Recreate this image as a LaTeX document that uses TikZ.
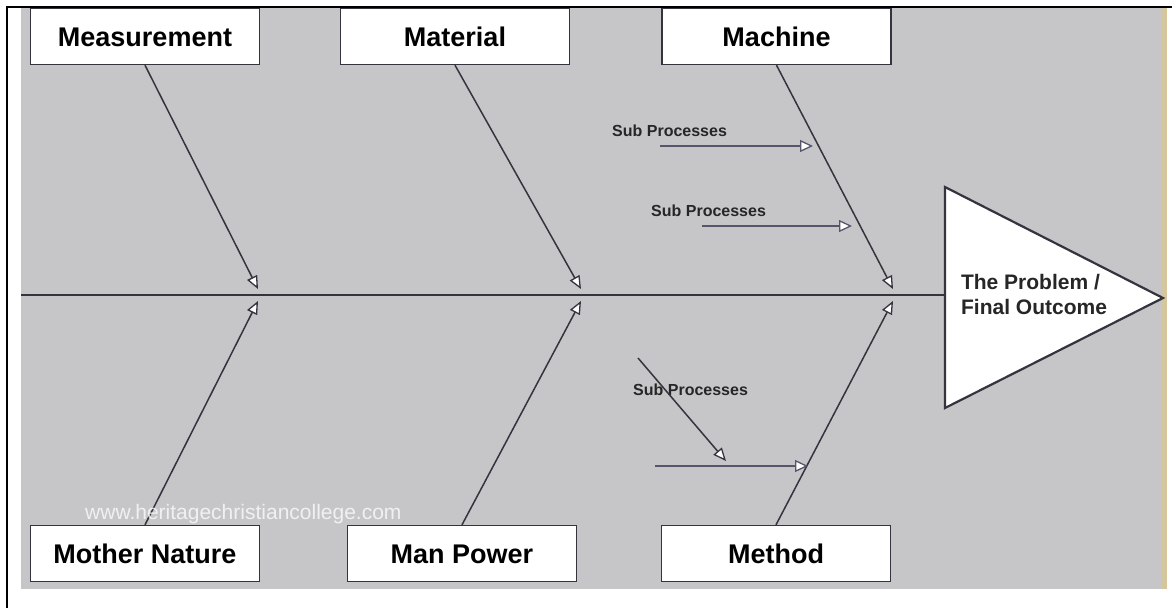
\documentclass[tikz,border=0pt]{standalone}
\usepackage{fontspec}
\setmainfont{Liberation Sans}
\usetikzlibrary{arrows.meta}
\definecolor{bg}{HTML}{C6C6C8}
\definecolor{ln}{HTML}{34343F}
\definecolor{sub}{HTML}{55556C}
\definecolor{tan}{HTML}{D6C69E}
\tikzset{
  catbox/.style={draw=ln, line width=1.4pt, fill=white, minimum width=229pt, minimum height=56pt, inner sep=0pt,
    text height=19pt, text depth=0pt, font=\fontsize{27}{32}\selectfont\bfseries},
  bone/.style={draw=ln, line width=1.5pt, -{Triangle[length=13pt,width=11pt,fill=white,line width=1.3pt]}},
  subarrow/.style={draw=sub, line width=2.8pt, -{Triangle[length=13pt,width=12pt,fill=white,line width=1.3pt]}},
  sublabel/.style={font=\fontsize{16}{19}\selectfont\bfseries, text=black!85, inner sep=0pt},
}
\begin{document}
\begin{tikzpicture}[x=1pt,y=-1pt]
\useasboundingbox (0,0) rectangle (1172,608);
% background
\fill[white] (0,0) rectangle (1172,608);
\fill[bg] (21,8) rectangle (1167,589);
\fill[tan] (1161,8) rectangle (1167,589);

% spine and head
\coordinate (spL) at (21,295);
\coordinate (T1) at (945,187);
\coordinate (T2) at (1163,298);
\coordinate (T3) at (945,408);
\coordinate (spR) at (945,295);
\draw[ln, line width=2pt] (spL) -- (spR);
\draw[ln, line width=2.2pt, fill=white, line join=miter] (T1) -- (T2) -- (T3) -- cycle;
\node[align=left, font=\fontsize{21}{25}\selectfont\bfseries, text=black!85, inner sep=0pt] (prob) at (1034,294) {The Problem /\\Final Outcome};

% category boxes
\node[catbox] (meas) at (145,36.5) {Measurement};
\node[catbox] (mat)  at (455,36.5) {Material};
\node[catbox] (mach) at (776.5,36.5) {Machine};
\node[catbox] (moth) at (145,553.5) {Mother Nature};
\node[catbox] (man)  at (462,553.5) {Man Power};
\node[catbox] (meth) at (776,553.5) {Method};
% frame
\draw[black, line width=2.2pt] (7,608) -- (7,7) -- (1172,7);

% bone end points on the spine
\coordinate (e1) at (258,289);
\coordinate (e2) at (581,289);
\coordinate (e3) at (893,289);
\coordinate (e4) at (258,301);
\coordinate (e5) at (581,301);
\coordinate (e6) at (893,301);
\draw[bone] (meas.south) -- (e1);
\draw[bone] (mat.south) -- (e2);
\draw[bone] (mach.south) -- (e3);
\draw[bone] (moth.north) -- (e4);
\draw[bone] (man.north) -- (e5);
\draw[bone] (meth.north) -- (e6);

% sub processes
\node[sublabel, anchor=west] (s1) at (612,131) {Sub Processes};
\coordinate (a1s) at (660,146);
\coordinate (a1e) at (813,146);
\draw[subarrow] (a1s) -- (a1e);

\node[sublabel, anchor=west] (s2) at (651,211) {Sub Processes};
\coordinate (a2s) at (702,226);
\coordinate (a2e) at (852,226);
\draw[subarrow] (a2s) -- (a2e);

\node[sublabel, anchor=west] (s3) at (633,390) {Sub Processes};
\coordinate (a3s) at (655,466);
\coordinate (a3e) at (808,466);
\draw[subarrow] (a3s) -- (a3e);
\coordinate (d3s) at (638,358);
\coordinate (d3e) at (726,461);
\draw[bone] (d3s) -- (d3e);

% watermark
\node[font=\fontsize{21}{25}\selectfont, text=white, opacity=0.75, anchor=west, inner sep=0pt] (wm) at (85,514) {www.heritagechristiancollege.com};
\end{tikzpicture}
\end{document}
